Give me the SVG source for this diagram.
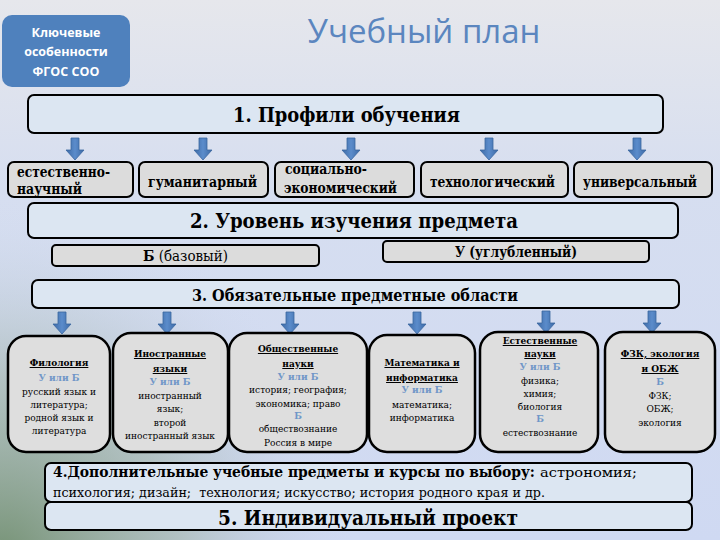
<svg xmlns="http://www.w3.org/2000/svg" xmlns:xlink="http://www.w3.org/1999/xlink" width="720" height="540" viewBox="0 0 720 540">
<defs>
<linearGradient id="bg" x1="0" y1="0" x2="0" y2="1">
<stop offset="0" stop-color="#e6e7ec"/>
<stop offset="0.35" stop-color="#d6def0"/>
<stop offset="1" stop-color="#cfd9f2"/>
</linearGradient>
<radialGradient id="green" cx="0" cy="560" r="360" gradientUnits="userSpaceOnUse">
<stop offset="0" stop-color="#6f8d6c" stop-opacity="0.95"/>
<stop offset="0.5" stop-color="#93a894" stop-opacity="0.5"/>
<stop offset="1" stop-color="#cfd9f2" stop-opacity="0"/>
</radialGradient>
<linearGradient id="ag" x1="0" y1="0" x2="1" y2="0">
<stop offset="0" stop-color="#3d6aa6"/>
<stop offset="0.5" stop-color="#5b8ccb"/>
<stop offset="1" stop-color="#3d6aa6"/>
</linearGradient>
<path id="arr" d="M-4,0 H4 V12 H9 L0,22 L-9,12 H-4 Z" fill="url(#ag)" stroke="#3b679f" stroke-width="0.8"/>
<style>
.lb{fill:#dce6f2;stroke:#000;stroke-width:2}
.gb{fill:#dcdcdc;stroke:#000;stroke-width:2}
.sb{fill:#dedede;stroke:#000;stroke-width:2.5}
text{font-family:'DejaVu Serif Condensed','DejaVu Serif',serif;font-stretch:condensed;fill:#000}
.pr{font-size:14px;font-weight:bold}
.s{font-size:10px;text-anchor:middle}
.h{font-weight:bold;text-decoration:underline}
.u{font-weight:bold;fill:#7096c8}
.sans{font-family:'Open Sans','Liberation Sans',sans-serif;font-stretch:normal}
</style>
</defs>
<rect width="720" height="540" fill="url(#bg)"/>
<rect width="720" height="540" fill="url(#green)"/>

<g id="key">
<rect x="2" y="15" width="128" height="72" rx="10" fill="#4f81bd"/>
<text class="sans" x="66" font-size="12.5" font-weight="bold" style="fill:#fff" text-anchor="middle"><tspan x="66" y="37">Ключевые</tspan><tspan x="66" y="56">особенности</tspan><tspan x="66" y="76">ФГОС СОО</tspan></text>
</g>
<g id="title">
<text class="sans" x="424" y="43" font-size="33" style="fill:#5b86bf" text-anchor="middle">Учебный план</text>
</g>

<g id="connectors">
<use xlink:href="#arr" x="75" y="138"/>
<use xlink:href="#arr" x="203" y="138"/>
<use xlink:href="#arr" x="351" y="138"/>
<use xlink:href="#arr" x="489" y="138"/>
<use xlink:href="#arr" x="637" y="138"/>
<use xlink:href="#arr" x="62" y="312"/>
<use xlink:href="#arr" x="167" y="312"/>
<use xlink:href="#arr" x="290" y="312"/>
<use xlink:href="#arr" x="417" y="312"/>
<use xlink:href="#arr" x="546" y="311"/>
<use xlink:href="#arr" x="652" y="311"/>
</g>

<g id="n1">
<rect class="lb" x="28" y="95" width="635" height="38" rx="6"/>
<text x="233" y="122" font-size="20" font-weight="bold" textLength="227" lengthAdjust="spacingAndGlyphs">1. Профили обучения</text>
</g>

<g id="p1">
<rect class="gb" x="8" y="162" width="125" height="35" rx="6"/>
<text class="pr" x="17" y="177" textLength="93" lengthAdjust="spacingAndGlyphs">естественно-</text>
<text class="pr" x="17" y="194" textLength="65" lengthAdjust="spacingAndGlyphs">научный</text>
</g>
<g id="p2">
<rect class="gb" x="139" y="162" width="129" height="35" rx="6"/>
<text class="pr" x="148" y="187" textLength="109" lengthAdjust="spacingAndGlyphs">гуманитарный</text>
</g>
<g id="p3">
<rect class="gb" x="275" y="162" width="139" height="35" rx="6"/>
<text class="pr" x="285" y="174" textLength="82" lengthAdjust="spacingAndGlyphs">социально-</text>
<text class="pr" x="284" y="193" textLength="113" lengthAdjust="spacingAndGlyphs">экономический</text>
</g>
<g id="p4">
<rect class="gb" x="421" y="162" width="147" height="35" rx="6"/>
<text class="pr" x="430" y="187" textLength="125" lengthAdjust="spacingAndGlyphs">технологический</text>
</g>
<g id="p5">
<rect class="gb" x="574" y="162" width="138" height="35" rx="6"/>
<text class="pr" x="583" y="187" textLength="114" lengthAdjust="spacingAndGlyphs">универсальный</text>
</g>

<g id="n2">
<rect class="lb" x="28" y="203" width="650" height="35" rx="6"/>
<text x="190" y="228" font-size="20" font-weight="bold" textLength="328" lengthAdjust="spacingAndGlyphs">2. Уровень изучения предмета</text>
</g>
<g id="lvlB">
<rect class="gb" x="52" y="245" width="267" height="21" rx="4"/>
<text x="143" y="261" font-size="14" textLength="85" lengthAdjust="spacingAndGlyphs"><tspan font-weight="bold">Б</tspan> (базовый)</text>
</g>
<g id="lvlU">
<rect class="gb" x="383" y="241" width="266" height="21" rx="4"/>
<text x="455" y="257" font-size="14" font-weight="bold" textLength="122" lengthAdjust="spacingAndGlyphs">У (углубленный)</text>
</g>

<g id="n3">
<rect class="lb" x="32" y="280" width="647" height="28" rx="6"/>
<text x="192" y="301" font-size="17" font-weight="bold" textLength="326" lengthAdjust="spacingAndGlyphs">3. Обязательные предметные области</text>
</g>

<g id="s1">
<rect class="sb" x="8" y="336" width="102" height="116" rx="18"/>
<text class="s"><tspan class="h" x="59" y="366">Филология</tspan><tspan class="u" x="59" y="381">У или Б</tspan><tspan x="59" y="395">русский язык и</tspan><tspan x="59" y="408">литература;</tspan><tspan x="59" y="421">родной язык и</tspan><tspan x="59" y="434">литература</tspan></text>
</g>
<g id="s2">
<rect class="sb" x="113" y="333" width="115" height="119" rx="18"/>
<text class="s"><tspan class="h" x="170" y="357">Иностранные</tspan><tspan class="h" x="170" y="372">языки</tspan><tspan class="u" x="170" y="385">У или Б</tspan><tspan x="170" y="399">иностранный</tspan><tspan x="170" y="412">язык;</tspan><tspan x="170" y="426">второй</tspan><tspan x="170" y="439">иностранный язык</tspan></text>
</g>
<g id="s3">
<rect class="sb" x="229" y="333" width="138" height="119" rx="18"/>
<text class="s"><tspan class="h" x="298" y="352">Общественные</tspan><tspan class="h" x="298" y="367">науки</tspan><tspan class="u" x="298" y="380">У или Б</tspan><tspan x="298" y="393">история; география;</tspan><tspan x="298" y="407">экономика; право</tspan><tspan class="u" x="298" y="419">Б</tspan><tspan x="298" y="432">обществознание</tspan><tspan x="298" y="446">Россия в мире</tspan></text>
</g>
<g id="s4">
<rect class="sb" x="369" y="335" width="106" height="117" rx="18"/>
<text class="s"><tspan class="h" x="422" y="366">Математика и</tspan><tspan class="h" x="422" y="381">информатика</tspan><tspan class="u" x="422" y="393">У или Б</tspan><tspan x="422" y="408">математика;</tspan><tspan x="422" y="421">информатика</tspan></text>
</g>
<g id="s5">
<rect class="sb" x="480" y="332" width="118" height="120" rx="18"/>
<text class="s"><tspan class="h" x="540" y="344">Естественные</tspan><tspan class="h" x="540" y="357">науки</tspan><tspan class="u" x="540" y="370">У или Б</tspan><tspan x="540" y="384">физика;</tspan><tspan x="540" y="397">химия;</tspan><tspan x="540" y="410">биология</tspan><tspan class="u" x="540" y="422">Б</tspan><tspan x="540" y="436">естествознание</tspan></text>
</g>
<g id="s6">
<rect class="sb" x="605" y="332" width="110" height="120" rx="18"/>
<text class="s"><tspan class="h" x="660" y="357">ФЗК, экология</tspan><tspan class="h" x="660" y="372">и ОБЖ</tspan><tspan class="u" x="660" y="385">Б</tspan><tspan x="660" y="399">ФЗК;</tspan><tspan x="660" y="412">ОБЖ;</tspan><tspan x="660" y="426">экология</tspan></text>
</g>

<g id="n4">
<rect class="lb" x="45" y="463" width="647" height="39" rx="6"/>
<text x="53" y="477" font-size="15.5" font-weight="bold" textLength="482" lengthAdjust="spacingAndGlyphs">4.Дополнительные учебные предметы и курсы по выбору:</text>
<text x="540" y="477" font-size="13.5" textLength="97" lengthAdjust="spacingAndGlyphs">астрономия;</text>
<text x="53" y="497" font-size="13.5" textLength="492" lengthAdjust="spacingAndGlyphs" xml:space="preserve">психология; дизайн;  технология; искусство; история родного края и др.</text>
</g>
<g id="n5">
<rect class="lb" x="45" y="502" width="647" height="28" rx="6"/>
<text x="218" y="525" font-size="21" font-weight="bold" textLength="300" lengthAdjust="spacingAndGlyphs">5. Индивидуальный проект</text>
</g>
</svg>
